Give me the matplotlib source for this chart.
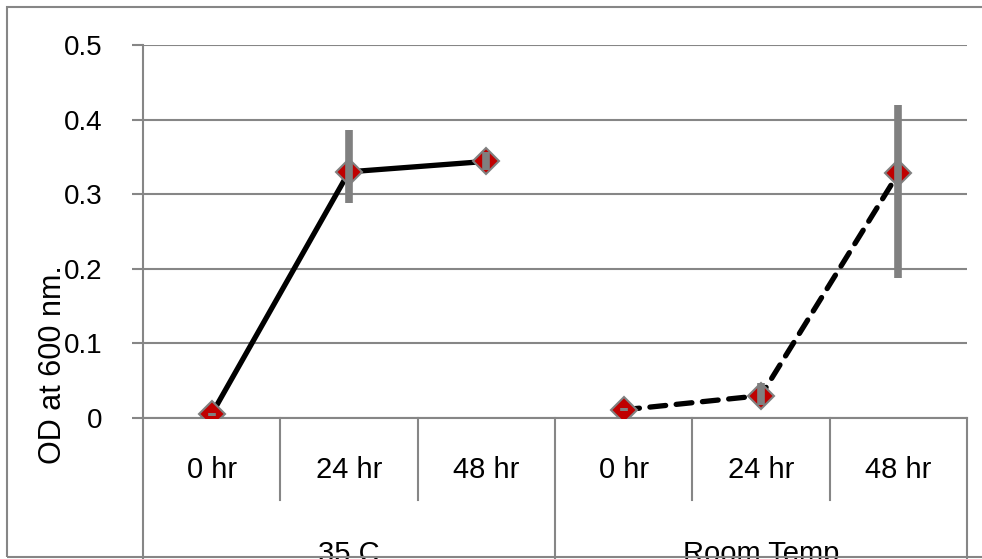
import numpy as np
import matplotlib
matplotlib.use("Agg")
import matplotlib.pyplot as plt
from matplotlib import font_manager
from matplotlib.patches import Rectangle

# data
groups = ["35 C", "Room Temp"]
times = ["0 hr", "24 hr", "48 hr"]
od_35c = [0.005, 0.330, 0.344]
err_35c_lo = [0.002, 0.042, 0.011]
err_35c_hi = [0.002, 0.056, 0.013]
od_room = [0.011, 0.030, 0.328]
err_room_lo = [0.002, 0.012, 0.141]
err_room_hi = [0.002, 0.017, 0.091]

names = {f.name for f in font_manager.fontManager.ttflist}
narrow = "Liberation Sans Narrow" if "Liberation Sans Narrow" in names else "Liberation Sans"

W, H = 982, 559
fig = plt.figure(figsize=(W / 100, H / 100), dpi=100)

# pixel layout of the plot area
x0, x1 = 143, 967
y_top, y_bot = 45, 418
ax = fig.add_axes([x0 / W, (H - y_bot) / H, (x1 - x0) / W, (y_bot - y_top) / H])

grey = "#868686"
n = len(times)
xs_35 = np.arange(n) + 0.5
xs_rt = np.arange(n) + n + 0.5

ax.plot(xs_35, od_35c, color="black", lw=3.8, zorder=2, solid_capstyle="round")
ax.plot(xs_rt, od_room, color="black", lw=3.8, zorder=2,
        dashes=(3.0, 2.0), dash_capstyle="round")
for xs, ys, lo, hi in [(xs_35, od_35c, err_35c_lo, err_35c_hi),
                       (xs_rt, od_room, err_room_lo, err_room_hi)]:
    ax.plot(xs, ys, ls="none", marker="D", ms=13.5, mfc="#C00000",
            mec="#808080", mew=1.5, zorder=3)
    ax.errorbar(xs, ys, yerr=[lo, hi], fmt="none", ecolor="#808080",
                elinewidth=5.5, capsize=0, zorder=4)

ax.set_xlim(0, 2 * n)
ax.set_ylim(0, 0.5)
ax.set_yticks(np.arange(0, 0.51, 0.1))
ax.set_yticklabels(["0", "0.1", "0.2", "0.3", "0.4", "0.5"],
                   fontfamily=narrow, fontsize=20)
ax.tick_params(axis="y", direction="out", length=8, width=1.5, color=grey, pad=21)
ax.set_xticks([])
ax.grid(axis="y", color=grey, lw=1.5)
ax.set_axisbelow(True)
for s in ["top", "right", "bottom"]:
    ax.spines[s].set_visible(False)
ax.spines["left"].set_color(grey)
ax.spines["left"].set_linewidth(1.5)

# multi-level category axis drawn below the plot area
h = y_bot - y_top
def ay(py):
    return (y_bot - py) / h

tr = ax.get_xaxis_transform()
ax.plot([0, 2 * n], [0, 0], color=grey, lw=1.5, transform=tr, clip_on=False)
for i in range(2 * n + 1):
    bottom = ay(560) if i % n == 0 else ay(500)
    ax.plot([i, i], [0, bottom], color=grey, lw=1.5, transform=tr, clip_on=False)
for i in range(2 * n):
    ax.text(i + 0.5, ay(470), times[i % n], transform=tr, ha="center",
            va="center", fontfamily=narrow, fontsize=21)
for g, name in enumerate(groups):
    ax.text(g * n + n / 2, ay(554), name, transform=tr, ha="center",
            va="center", fontfamily=narrow, fontsize=21)

fig.text(53 / W, 1 - 365 / H, "OD at 600 nm.", rotation=90, ha="center",
         va="center", fontfamily="Liberation Sans", fontsize=22)

# chart border
fig.patches.append(Rectangle((7 / W, 1 - 557 / H), 1.0, (557 - 7) / H,
                             transform=fig.transFigure, fill=False,
                             edgecolor=grey, lw=1.5, zorder=10))

fig.savefig("out.png", dpi=100)
